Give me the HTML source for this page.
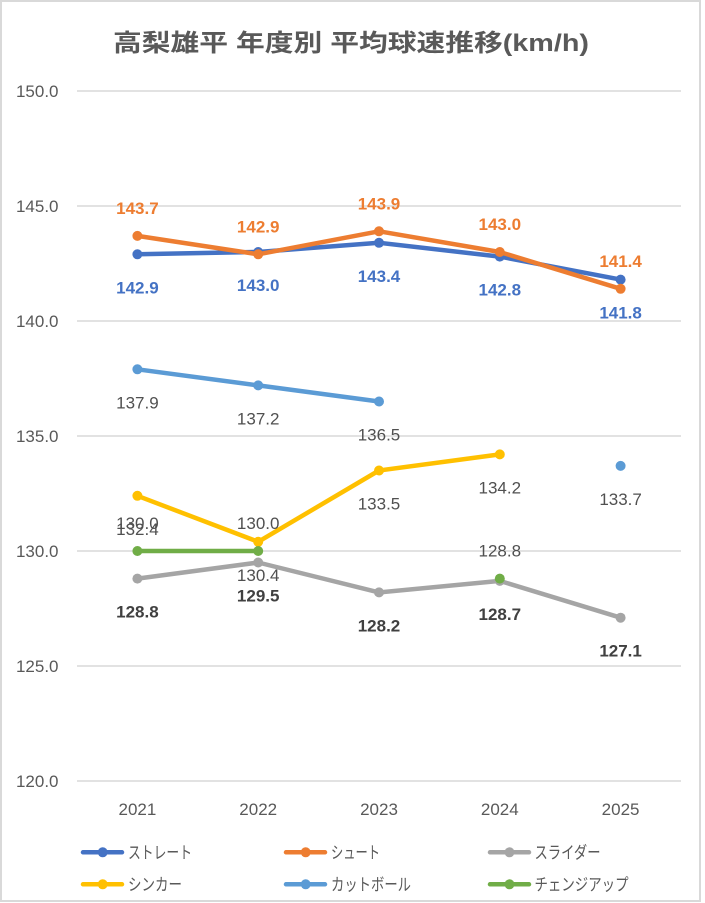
<!DOCTYPE html>
<html><head><meta charset="utf-8"><style>
html,body{margin:0;padding:0;background:#fff;}
svg{display:block;}
text{font-family:"Liberation Sans","Noto Sans CJK JP",sans-serif;}
</style></head><body>
<svg width="705" height="903" viewBox="0 0 705 903" xmlns="http://www.w3.org/2000/svg">
<rect x="0" y="0" width="705" height="903" fill="#fff"/>
<rect x="1" y="1" width="699" height="900" fill="none" stroke="#d9d9d9" stroke-width="2"/>
<text x="351" y="51" font-size="24" font-weight="bold" fill="#595959" text-anchor="middle" textLength="476" lengthAdjust="spacingAndGlyphs">高梨雄平 年度別 平均球速推移(km/h)</text>
<g stroke="#d9d9d9" stroke-width="1.5">
<line x1="77" y1="91" x2="681" y2="91"/>
<line x1="77" y1="206" x2="681" y2="206"/>
<line x1="77" y1="321" x2="681" y2="321"/>
<line x1="77" y1="436" x2="681" y2="436"/>
<line x1="77" y1="551" x2="681" y2="551"/>
<line x1="77" y1="666" x2="681" y2="666"/>
<line x1="77" y1="781" x2="681" y2="781"/>
</g>
<g font-size="17" fill="#595959" text-anchor="end">
<text x="58.5" y="97">150.0</text>
<text x="58.5" y="212">145.0</text>
<text x="58.5" y="327">140.0</text>
<text x="58.5" y="442">135.0</text>
<text x="58.5" y="557">130.0</text>
<text x="58.5" y="672">125.0</text>
<text x="58.5" y="787">120.0</text>
</g>
<g font-size="17" fill="#595959" text-anchor="middle">
<text x="137.4" y="815">2021</text>
<text x="258.2" y="815">2022</text>
<text x="379" y="815">2023</text>
<text x="499.8" y="815">2024</text>
<text x="620.6" y="815">2025</text>
</g>
<polyline fill="none" stroke-width="4.5" stroke-linejoin="round" stroke="#4472C4" points="137.4,254.3 258.2,252 379,242.8 499.8,256.6 620.6,279.6"/>
<g fill="#4472C4"><circle cx="137.4" cy="254.3" r="5"/><circle cx="258.2" cy="252" r="5"/><circle cx="379" cy="242.8" r="5"/><circle cx="499.8" cy="256.6" r="5"/><circle cx="620.6" cy="279.6" r="5"/></g>
<polyline fill="none" stroke-width="4.5" stroke-linejoin="round" stroke="#ED7D31" points="137.4,235.9 258.2,254.3 379,231.3 499.8,252 620.6,288.8"/>
<g fill="#ED7D31"><circle cx="137.4" cy="235.9" r="5"/><circle cx="258.2" cy="254.3" r="5"/><circle cx="379" cy="231.3" r="5"/><circle cx="499.8" cy="252" r="5"/><circle cx="620.6" cy="288.8" r="5"/></g>
<polyline fill="none" stroke-width="4.5" stroke-linejoin="round" stroke="#A5A5A5" points="137.4,578.6 258.2,562.5 379,592.4 499.8,580.9 620.6,617.7"/>
<g fill="#A5A5A5"><circle cx="137.4" cy="578.6" r="5"/><circle cx="258.2" cy="562.5" r="5"/><circle cx="379" cy="592.4" r="5"/><circle cx="499.8" cy="580.9" r="5"/><circle cx="620.6" cy="617.7" r="5"/></g>
<polyline fill="none" stroke-width="4.5" stroke-linejoin="round" stroke="#FFC000" points="137.4,495.8 258.2,541.8 379,470.5 499.8,454.4"/>
<g fill="#FFC000"><circle cx="137.4" cy="495.8" r="5"/><circle cx="258.2" cy="541.8" r="5"/><circle cx="379" cy="470.5" r="5"/><circle cx="499.8" cy="454.4" r="5"/></g>
<polyline fill="none" stroke-width="4.5" stroke-linejoin="round" stroke="#5B9BD5" points="137.4,369.3 258.2,385.4 379,401.5"/>
<g fill="#5B9BD5"><circle cx="137.4" cy="369.3" r="5"/><circle cx="258.2" cy="385.4" r="5"/><circle cx="379" cy="401.5" r="5"/><circle cx="620.6" cy="465.9" r="5"/></g>
<polyline fill="none" stroke-width="4.5" stroke-linejoin="round" stroke="#70AD47" points="137.4,551 258.2,551"/>
<g fill="#70AD47"><circle cx="137.4" cy="551" r="5"/><circle cx="258.2" cy="551" r="5"/><circle cx="499.8" cy="578.6" r="5"/></g>
<g font-size="17" text-anchor="middle">
<g fill="#4472C4" font-weight="bold">
<text x="137.4" y="293.3">142.9</text><text x="258.2" y="291">143.0</text><text x="379" y="281.8">143.4</text><text x="499.8" y="295.6">142.8</text><text x="620.6" y="318.6">141.8</text>
</g>
<g fill="#ED7D31" font-weight="bold">
<text x="137.4" y="213.9">143.7</text><text x="258.2" y="232.3">142.9</text><text x="379" y="209.3">143.9</text><text x="499.8" y="230">143.0</text><text x="620.6" y="266.8">141.4</text>
</g>
<g fill="#404040" font-weight="bold">
<text x="137.4" y="617.6">128.8</text><text x="258.2" y="601.5">129.5</text><text x="379" y="631.4">128.2</text><text x="499.8" y="619.9">128.7</text><text x="620.6" y="656.7">127.1</text>
</g>
<g fill="#505050">
<text x="137.4" y="534.8">132.4</text><text x="258.2" y="580.8">130.4</text><text x="379" y="509.5">133.5</text><text x="499.8" y="493.4">134.2</text>
<text x="137.4" y="408.3">137.9</text><text x="258.2" y="424.4">137.2</text><text x="379" y="440.5">136.5</text><text x="620.6" y="504.9">133.7</text>
<text x="137.4" y="529">130.0</text><text x="258.2" y="529">130.0</text><text x="499.8" y="556.6">128.8</text>
</g>
</g>
<g stroke-width="4.5" stroke-linecap="round">
<line x1="83" y1="852.3" x2="122" y2="852.3" stroke="#4472C4"/>
<line x1="286" y1="852.3" x2="325" y2="852.3" stroke="#ED7D31"/>
<line x1="490" y1="852.3" x2="529" y2="852.3" stroke="#A5A5A5"/>
<line x1="83" y1="884.3" x2="122" y2="884.3" stroke="#FFC000"/>
<line x1="286" y1="884.3" x2="325" y2="884.3" stroke="#5B9BD5"/>
<line x1="490" y1="884.3" x2="529" y2="884.3" stroke="#70AD47"/>
</g>
<circle cx="102.7" cy="852.3" r="5" fill="#4472C4"/>
<circle cx="305.7" cy="852.3" r="5" fill="#ED7D31"/>
<circle cx="509.5" cy="852.3" r="5" fill="#A5A5A5"/>
<circle cx="102.7" cy="884.3" r="5" fill="#FFC000"/>
<circle cx="305.7" cy="884.3" r="5" fill="#5B9BD5"/>
<circle cx="509.5" cy="884.3" r="5" fill="#70AD47"/>
<g font-size="17" fill="#595959">
<text x="128" y="858.5" textLength="64" lengthAdjust="spacingAndGlyphs">ストレート</text>
<text x="331" y="858.5" textLength="49" lengthAdjust="spacingAndGlyphs">シュート</text>
<text x="534.5" y="858.5" textLength="66" lengthAdjust="spacingAndGlyphs">スライダー</text>
<text x="128" y="890.5" textLength="54" lengthAdjust="spacingAndGlyphs">シンカー</text>
<text x="331" y="890.5" textLength="80" lengthAdjust="spacingAndGlyphs">カットボール</text>
<text x="534.5" y="890.5" textLength="94" lengthAdjust="spacingAndGlyphs">チェンジアップ</text>
</g>
</svg>
</body></html>
